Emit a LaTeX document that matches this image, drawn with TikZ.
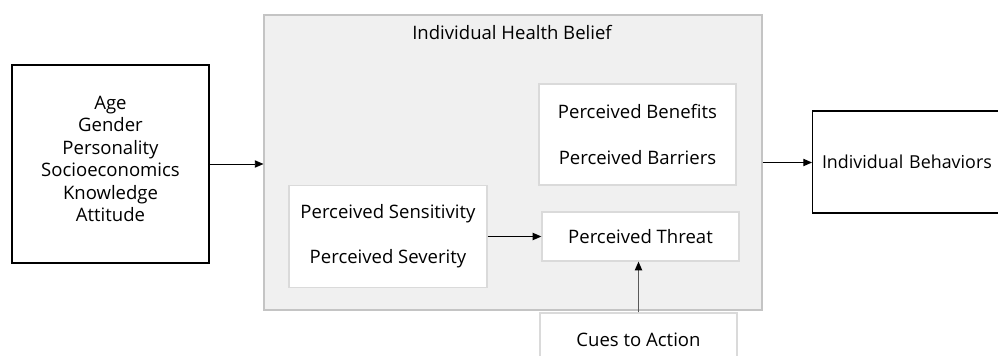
\documentclass[tikz,border=0pt]{standalone}
\usepackage{fontspec}
\setmainfont{Open Sans}
\usetikzlibrary{arrows.meta,positioning}
\definecolor{qgray}{RGB}{240,240,240}
\definecolor{qline}{RGB}{196,196,196}
\definecolor{qframe}{RGB}{218,218,218}

\tikzset{
  blackbox/.style={draw=black,line width=1pt,fill=white,inner sep=0pt},
  whitebox/.style={draw=qframe,line width=1pt,fill=white,inner sep=0pt,align=center},
  link/.style={-{Triangle[length=6.5pt,width=5.5pt,color=black]},line width=0.7pt}
}

\begin{document}
\begin{tikzpicture}[x=0.75pt,y=-0.75pt,font=\fontsize{13.9}{16.9}\selectfont]
\useasboundingbox (0,0) rectangle (998,356);
\clip (0,0) rectangle (998,356);

%Set up:
\node[draw=qline,fill=qgray,line width=0.8pt,minimum width=373.5pt,minimum height=221.25pt] (belief) at (513,162.5) {};
\node (title) at (512,33) {Individual Health Belief};

\node[blackbox,minimum width=147.75pt,minimum height=148.5pt] (factors) at (110.5,164) {};
\node[align=center] (factorstext) at (110.5,159) {Age\\Gender\\Personality\\Socioeconomics\\Knowledge\\Attitude};

\node[whitebox,minimum width=147.75pt,minimum height=75.75pt] (benefit) at (637.5,134.5) {Perceived Benefits\\[17.6pt]Perceived Barriers};
\node[whitebox,minimum width=148.5pt,minimum height=76.5pt] (sense) at (388,236.5) {Perceived Sensitivity\\[16.9pt]Perceived Severity};
\node[whitebox,minimum width=147.75pt,minimum height=36.75pt] (threat) at (640.5,236.5) {Perceived Threat};
\node[whitebox,minimum width=147.75pt,minimum height=40.5pt] (cues) at (638.5,340) {Cues to Action};

\node[blackbox,anchor=west,minimum height=76.5pt,text width=200pt,align=left,inner xsep=7pt,font=\fontsize{13.4}{16.9}\selectfont] (behav) at (812,162) {Individual Behaviors};

%arrows
\draw[link] (factors.east) -- (factors.east -| belief.west);
\draw[link] (sense.east) -- (sense.east -| threat.west);
\draw[link,draw=black!65] (cues.north) -- (cues.north |- threat.south);
\draw[link] (belief.east) -- (belief.east -| behav.west);

\end{tikzpicture}
\end{document}
